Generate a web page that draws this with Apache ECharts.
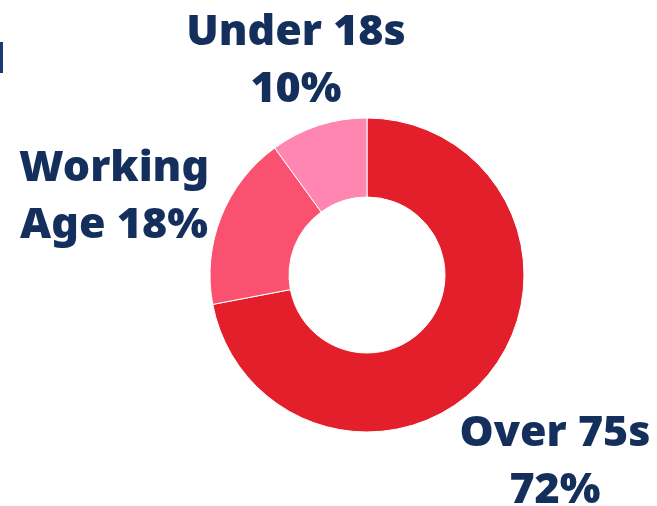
<!DOCTYPE html>
<html>
<head>
<meta charset="utf-8">
<script src="https://cdn.jsdelivr.net/npm/echarts@6/dist/echarts.min.js"></script>
<style>html,body{margin:0;padding:0;background:#fff;}#c{width:657px;height:506px;}</style>
</head>
<body>
<div id="c"></div>
<script>
const categories = ['Over 75s', 'Working Age', 'Under 18s'];
const values = [72, 18, 10];
const labelTexts = ['Over 75s\n72%', 'Working\nAge 18%', 'Under 18s\n10%'];
const colors = ['#E21F2B', '#F9516F', '#FF86B0'];
const labelPos = [[555, 462], [114, 197], [296, 61]];

const chart = echarts.init(document.getElementById('c'));
chart.setOption({
  animation: false,
  graphic: [{ type: 'rect', shape: { x: 0, y: 42, width: 3, height: 31 }, style: { fill: '#1D3A6E' } }],
  series: [{
    type: 'pie',
    center: [367, 275],
    radius: [78, 157],
    startAngle: 90,
    clockwise: true,
    avoidLabelOverlap: false,
    itemStyle: { borderColor: '#fff', borderWidth: 1 },
    label: {
      show: true,
      position: 'outside',
      formatter: p => labelTexts[p.dataIndex],
      fontFamily: 'Noto Sans',
      fontWeight: 900,
      fontSize: 43,
      lineHeight: 57,
      color: '#142F5C',
      align: 'center',
      overflow: 'none',
      width: 300
    },
    labelLine: { show: false },
    labelLayout: p => ({ x: labelPos[p.dataIndex][0], y: labelPos[p.dataIndex][1], align: 'center', verticalAlign: 'middle' }),
    data: categories.map((c, i) => ({ name: c, value: values[i], itemStyle: { color: colors[i] } }))
  }]
});
</script>
</body>
</html>
